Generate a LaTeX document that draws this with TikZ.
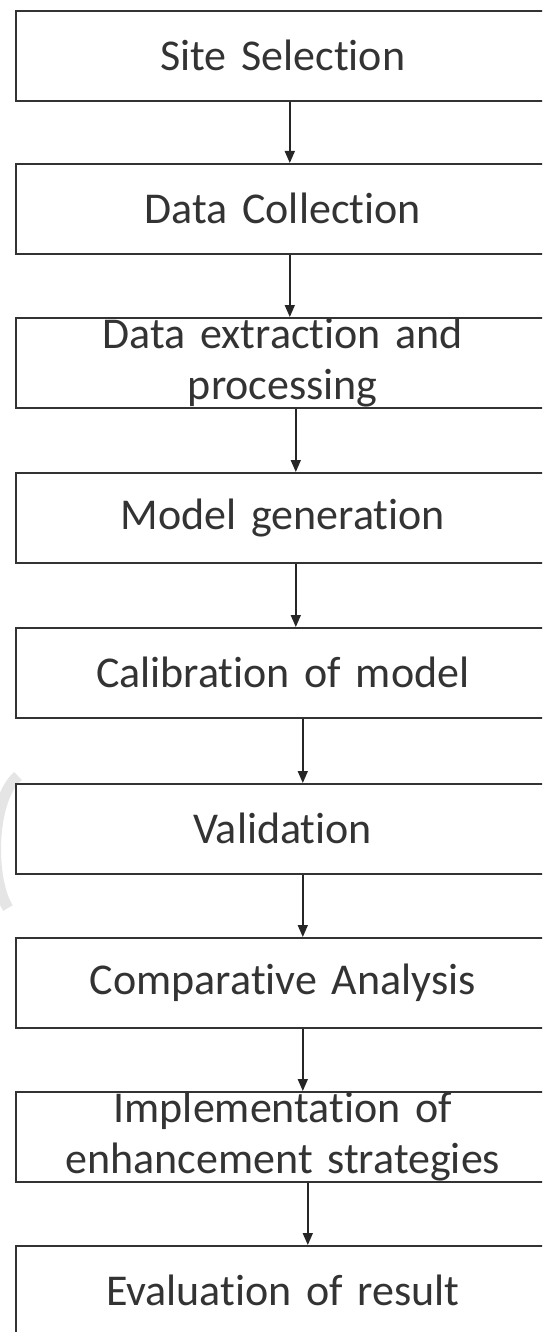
\documentclass[tikz,border=0pt]{standalone}
\usepackage{fontspec}
\setmainfont{Carlito}[Ligatures=NoCommon, WordSpace=0.85]
\usetikzlibrary{arrows.meta}
\begin{document}
\begin{tikzpicture}[x=1pt,y=-1pt,
  stepbox/.style={draw=black!80, line width=1.6pt, fill=white, minimum width=534pt, minimum height=90pt,
    text width=520pt, align=center, font=\fontsize{44}{51}\selectfont, text=black!80,
    inner sep=0pt, anchor=north west},
  arr/.style={draw=black!85, line width=1.6pt, -{Triangle[length=12pt,width=10pt]}}]
\useasboundingbox (0,0) rectangle (542,1332);
\clip (0,0) rectangle (542,1332);
% faint watermark arc at left
\draw[black!10, line width=11pt] (18,776) .. controls (-10,800) and (-10,880) .. (8,908);
\node[stepbox] (b1) at (15,10) {Site Selection};
\node[stepbox] (b2) at (15,163) {Data Collection};
\node[stepbox] (b3) at (15,317) {Data extraction and\\processing};
\node[stepbox] (b4) at (15,472) {Model generation};
\node[stepbox] (b5) at (15,627) {Calibration of model};
\node[stepbox] (b6) at (15,783) {Validation};
\node[stepbox] (b7) at (15,937) {Comparative Analysis};
\node[stepbox] (b8) at (15,1091) {Implementation of\\enhancement strategies};
\node[stepbox] (b9) at (15,1245) {Evaluation of result};
\draw[arr] ([xshift=7pt]b1.south) -- ([xshift=7pt]b2.north);
\draw[arr] ([xshift=7pt]b2.south) -- ([xshift=7pt]b3.north);
\draw[arr] ([xshift=13pt]b3.south) -- ([xshift=13pt]b4.north);
\draw[arr] ([xshift=13pt]b4.south) -- ([xshift=13pt]b5.north);
\draw[arr] ([xshift=20pt]b5.south) -- ([xshift=20pt]b6.north);
\draw[arr] ([xshift=20pt]b6.south) -- ([xshift=20pt]b7.north);
\draw[arr] ([xshift=20pt]b7.south) -- ([xshift=20pt]b8.north);
\draw[arr] ([xshift=25pt]b8.south) -- ([xshift=25pt]b9.north);
\end{tikzpicture}
\end{document}
